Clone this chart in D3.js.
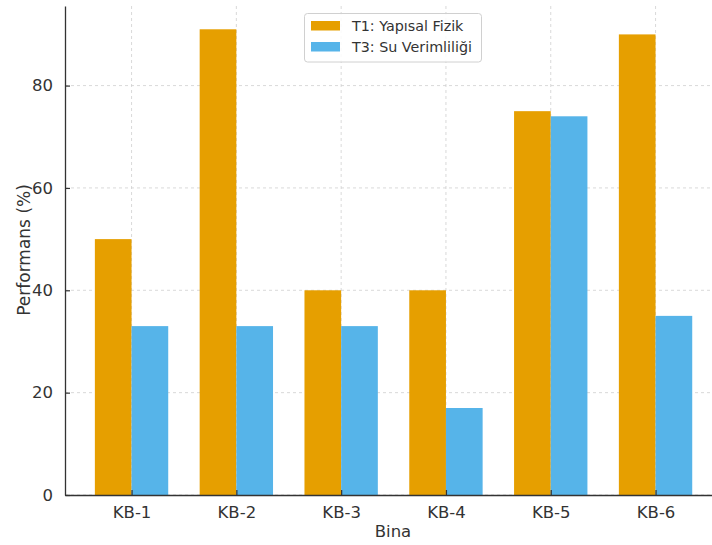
<!DOCTYPE html>
<html>
<head>
<meta charset="utf-8">
<script src="https://cdn.jsdelivr.net/npm/d3@7"></script>
<style>
  body { margin: 0; background: #fff; }
  svg { display: block; font-family: "DejaVu Sans", sans-serif; }
</style>
</head>
<body>
<svg id="chart" width="712" height="545"></svg>
<script>
const categories = ["KB-1", "KB-2", "KB-3", "KB-4", "KB-5", "KB-6"];
const seriesNames = ["T1: Yapısal Fizik", "T3: Su Verimliliği"];
const t1Values = [50, 91, 40, 40, 75, 90];
const t3Values = [33, 33, 33, 17, 74, 35];
const yTicks = [0, 20, 40, 60, 80];
const colors = ["#E69F00", "#56B4E9"];

(function () {
const svg = d3.select("#chart");
const plotLeft = 65, plotBottom = 495, plotTop = 6;
const barW = 0.35;

const x = d3.scaleLinear().domain([-0.635, 5.635]).range([plotLeft, plotLeft + 6.27 * 104.8]);
const y = d3.scaleLinear().domain([0, 95.55]).range([plotBottom, plotTop]);

const textColor = "#333";

// grid
const grid = svg.append("g");
grid.selectAll(".gy").data(yTicks).enter().append("line")
  .attr("x1", plotLeft).attr("x2", 712)
  .attr("y1", d => y(d)).attr("y2", d => y(d))
  .attr("stroke", "#cfcfcf").attr("stroke-width", 0.8).attr("stroke-dasharray", "3,3");
grid.selectAll(".gx").data(categories).enter().append("line")
  .attr("x1", (d, i) => x(i)).attr("x2", (d, i) => x(i))
  .attr("y1", plotTop).attr("y2", plotBottom)
  .attr("stroke", "#cfcfcf").attr("stroke-width", 0.8).attr("stroke-dasharray", "3,3");

// bars
const series = [t1Values, t3Values];
series.forEach((vals, s) => {
  svg.append("g").selectAll("rect").data(vals).enter().append("rect")
    .attr("x", (d, i) => x(i + (s === 0 ? -barW : 0)))
    .attr("width", (d, i) => x(i + barW) - x(i))
    .attr("y", d => y(d))
    .attr("height", d => y(0) - y(d))
    .attr("fill", colors[s]);
});

// axes
const yAxis = d3.axisLeft(y).tickValues(yTicks).tickSizeInner(-5).tickSizeOuter(0).tickPadding(12);
const gy = svg.append("g").attr("transform", `translate(${plotLeft},0)`).call(yAxis);
gy.select(".domain").attr("stroke", "#333").attr("stroke-width", 1.3);
gy.selectAll(".tick line").attr("stroke", "#333").attr("stroke-width", 1.2);
gy.selectAll(".tick text").attr("font-size", 16.5).attr("fill", textColor).attr("font-family", "DejaVu Sans");

const xAxis = d3.axisBottom(x).tickValues(d3.range(categories.length)).tickFormat(i => categories[i])
  .tickSizeInner(-5).tickSizeOuter(0).tickPadding(11);
const gx = svg.append("g").attr("transform", `translate(0,${plotBottom})`).call(xAxis);
gx.select(".domain").attr("stroke", "#333").attr("stroke-width", 1.3);
gx.selectAll(".tick line").attr("stroke", "#333").attr("stroke-width", 1.2);
gx.selectAll(".tick text").attr("font-size", 16.5).attr("fill", textColor).attr("font-family", "DejaVu Sans");

// axis labels
svg.append("text").attr("x", 393).attr("y", 537).attr("text-anchor", "middle")
  .attr("font-size", 16.5).attr("fill", textColor).text("Bina");
svg.append("text").attr("transform", "translate(30,250) rotate(-90)").attr("text-anchor", "middle")
  .attr("font-size", 17).attr("fill", textColor).text("Performans (%)");

// legend
const lg = svg.append("g");
lg.append("rect").attr("x", 304.5).attr("y", 13.5).attr("width", 177).attr("height", 48.5)
  .attr("rx", 3).attr("fill", "#fff").attr("fill-opacity", 0.85)
  .attr("stroke", "#d0d0d0").attr("stroke-width", 1);
seriesNames.forEach((name, i) => {
  const yy = 21 + i * 21;
  lg.append("rect").attr("x", 311).attr("y", yy).attr("width", 29).attr("height", 9.5).attr("fill", colors[i]);
  lg.append("text").attr("x", 352).attr("y", yy + 10).attr("font-size", 14.3).attr("fill", textColor).text(name);
});
})();
</script>
</body>
</html>
